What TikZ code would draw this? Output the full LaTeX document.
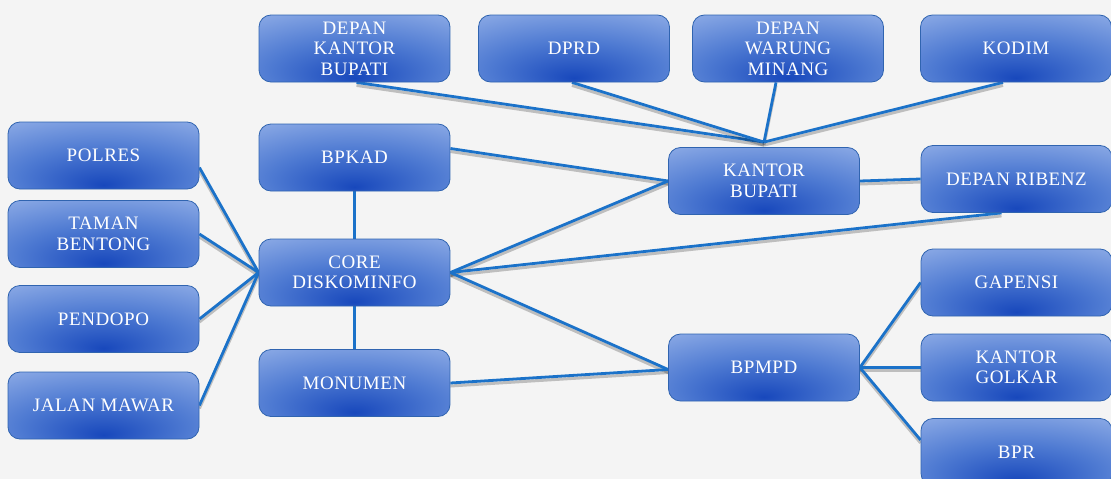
\documentclass[tikz,border=0pt]{standalone}
\usepackage{fontspec}
\setmainfont{Liberation Serif}
\usepackage{tikz}
\usetikzlibrary{calc}
\usetikzlibrary{positioning}
\definecolor{boxlight}{RGB}{160,186,236}
\definecolor{boxmid}{RGB}{78,122,210}
\definecolor{boxdark}{RGB}{24,72,188}
\definecolor{boxline}{RGB}{48,100,176}
\definecolor{linkblue}{RGB}{27,114,201}
\definecolor{bgcol}{RGB}{244,244,244}
\pgfdeclareradialshading{boxshade}{\pgfpoint{0bp}{-22bp}}{color(0bp)=(boxdark); color(22bp)=(boxmid); color(52bp)=(boxlight); color(90bp)=(boxlight)}
\pgfdeclarelayer{back}
\pgfsetlayers{back,main}

\begin{document}
\begin{tikzpicture}[x=1pt,y=-1pt,
  stn/.style={draw=boxline,line width=0.8pt,rounded corners=12pt,shading=boxshade,
    minimum width=191pt,minimum height=67pt,text=white,align=center,
    font=\addfontfeature{LetterSpace=3}\fontsize{19}{20.5}\selectfont},
  link/.style={linkblue,line width=2.8pt,
    preaction={draw=black,opacity=0.22,line width=3pt,transform canvas={yshift=-3pt}}}]

\begin{pgfonlayer}{back}
\fill[bgcol] (0,0) rectangle (1111,479);
\end{pgfonlayer}
\useasboundingbox (0,0) rectangle (1111,479);
\clip (0,0) rectangle (1111,479);

% top row
\node[stn] (dkbupati) at (354.5,48.5) {DEPAN\\KANTOR\\BUPATI};
\node[stn] (dprd) at (574,48.5) {DPRD};
\node[stn] (warung) at (788,48.5) {DEPAN\\WARUNG\\MINANG};
\node[stn] (kodim) at (1016,48.5) {KODIM};

% left column
\node[stn] (polres) at (103.5,155.5) {POLRES};
\node[stn] (taman) at (103.5,234) {TAMAN\\BENTONG};
\node[stn] (pendopo) at (103.5,319) {PENDOPO};
\node[stn] (mawar) at (103.5,405.5) {JALAN MAWAR};

% center column
\node[stn] (bpkad) at (354.5,157.5) {BPKAD};
\node[stn] (core) at (354.5,272.5) {CORE\\DISKOMINFO};
\node[stn] (monumen) at (354.5,383) {MONUMEN};

% right side
\node[stn] (kbupati) at (764,181) {KANTOR\\BUPATI};
\node[stn] (ribenz) at (1016.5,179) {DEPAN RIBENZ};
\node[stn] (bpmpd) at (764,367.5) {BPMPD};
\node[stn] (gapensi) at (1016.5,282.5) {GAPENSI};
\node[stn] (golkar) at (1016.5,367.5) {KANTOR\\GOLKAR};
\node[stn] (bpr) at (1016.5,452) {BPR};

% links
\begin{pgfonlayer}{back}
\draw[link] ([yshift=-12pt]polres.east) -- (core.west);
\draw[link] (taman.east) -- (core.west);
\draw[link] (pendopo.east) -- (core.west);
\draw[link] (mawar.east) -- (core.west);
\draw[link] (bpkad.south) -- (core.north);
\draw[link] (core.south) -- (monumen.north);
\draw[link] ([yshift=9pt]bpkad.east) -- (kbupati.west);
\draw[link] (core.east) -- (kbupati.west);
\draw[link] (core.east) -- ([xshift=-15pt]ribenz.south);
\draw[link] (core.east) -- ([yshift=-2pt]bpmpd.west);
\draw[link] (monumen.east) -- ([yshift=-2pt]bpmpd.west);
\draw[link] ([xshift=2pt]dkbupati.south) -- ([yshift=5pt]kbupati.north);
\draw[link] ([xshift=-2pt]dprd.south) -- ([yshift=5pt]kbupati.north);
\draw[link] ([xshift=-12pt]warung.south) -- ([yshift=5pt]kbupati.north);
\draw[link] ([xshift=-13pt]kodim.south) -- ([yshift=5pt]kbupati.north);
\draw[link] (kbupati.east) -- (ribenz.west);
\draw[link] (bpmpd.east) -- (gapensi.west);
\draw[link] (bpmpd.east) -- (golkar.west);
\draw[link] (bpmpd.east) -- ([yshift=12pt]bpr.west);
\end{pgfonlayer}
\end{tikzpicture}
\end{document}
